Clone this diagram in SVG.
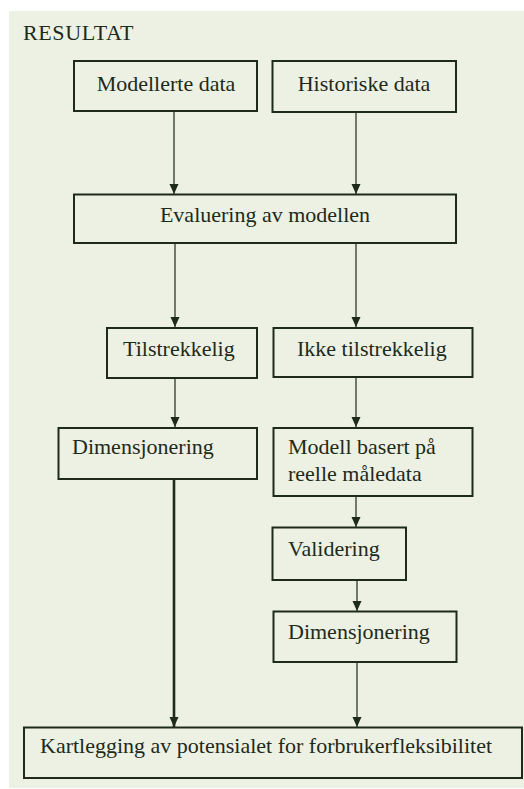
<svg xmlns="http://www.w3.org/2000/svg" width="524" height="789" viewBox="0 0 524 789">
  <style>
    .box { fill: #ecf1e4; stroke: #1e2a1a; stroke-width: 2; }
    .lbl { font-size: 22px; fill: #1e2a1a; }
    .c { text-anchor: middle; }
    .wire { stroke: #1e2a1a; stroke-width: 1.2; fill: none; }
    .thick { stroke-width: 2.6; }
  </style>
  <defs>
    <marker id="arrow" markerUnits="userSpaceOnUse" markerWidth="11" markerHeight="11" refX="10" refY="5.5" orient="auto">
      <path d="M0,1 L10,5.5 L0,10 Z" fill="#1e2a1a"/>
    </marker>
  </defs>

  <!-- panel background -->
  <rect x="9" y="11" width="515" height="777" fill="#ecf1e4"/>

  <g font-family="'Liberation Serif', 'Times New Roman', Times, serif">
    <text class="lbl" x="23" y="40" letter-spacing="0.6">RESULTAT</text>

    <!-- connectors -->
    <g id="connectors">
      <line class="wire" x1="174" y1="111" x2="174" y2="194" marker-end="url(#arrow)"/>
      <line class="wire" x1="356" y1="112" x2="356" y2="194" marker-end="url(#arrow)"/>
      <line class="wire" x1="175" y1="243" x2="175" y2="327" marker-end="url(#arrow)"/>
      <line class="wire" x1="356" y1="243" x2="356" y2="327" marker-end="url(#arrow)"/>
      <line class="wire" x1="175" y1="378" x2="175" y2="427" marker-end="url(#arrow)"/>
      <line class="wire" x1="356" y1="377" x2="356" y2="427" marker-end="url(#arrow)"/>
      <line class="wire" x1="356" y1="496" x2="356" y2="527" marker-end="url(#arrow)"/>
      <line class="wire" x1="357" y1="580" x2="357" y2="611" marker-end="url(#arrow)"/>
      <line class="wire" x1="357" y1="662" x2="357" y2="727" marker-end="url(#arrow)"/>
      <line class="wire thick" x1="174" y1="479" x2="174" y2="727" marker-end="url(#arrow)"/>
    </g>

    <g id="modellerte">
      <rect class="box" x="74" y="61" width="183" height="50"/>
      <text class="lbl c" x="166" y="91">Modellerte data</text>
    </g>
    <g id="historiske">
      <rect class="box" x="272.5" y="61" width="183.5" height="51"/>
      <text class="lbl c" x="364" y="91">Historiske data</text>
    </g>
    <g id="evaluering">
      <rect class="box" x="74" y="194.5" width="382" height="48.5"/>
      <text class="lbl c" x="265" y="222">Evaluering av modellen</text>
    </g>
    <g id="tilstrekkelig">
      <rect class="box" x="107" y="328" width="150" height="50"/>
      <text class="lbl" x="123" y="356">Tilstrekkelig</text>
    </g>
    <g id="ikke-tilstrekkelig">
      <rect class="box" x="273.5" y="328" width="199" height="49"/>
      <text class="lbl" x="297" y="356">Ikke tilstrekkelig</text>
    </g>
    <g id="dimensjonering-1">
      <rect class="box" x="58.5" y="428" width="198.5" height="51"/>
      <text class="lbl" x="72" y="454">Dimensjonering</text>
    </g>
    <g id="modell-basert">
      <rect class="box" x="273.5" y="428" width="199" height="68"/>
      <text class="lbl" x="288" y="454">Modell basert på</text>
      <text class="lbl" x="288" y="481">reelle måledata</text>
    </g>
    <g id="validering">
      <rect class="box" x="272.5" y="527.5" width="133.5" height="52.5"/>
      <text class="lbl" x="288" y="556">Validering</text>
    </g>
    <g id="dimensjonering-2">
      <rect class="box" x="273.5" y="611.5" width="183" height="50.5"/>
      <text class="lbl" x="288" y="639">Dimensjonering</text>
    </g>
    <g id="kartlegging">
      <rect class="box" x="24" y="727.5" width="498" height="50.5"/>
      <text class="lbl" x="40" y="753">Kartlegging av potensialet for forbrukerfleksibilitet</text>
    </g>
  </g>
</svg>
